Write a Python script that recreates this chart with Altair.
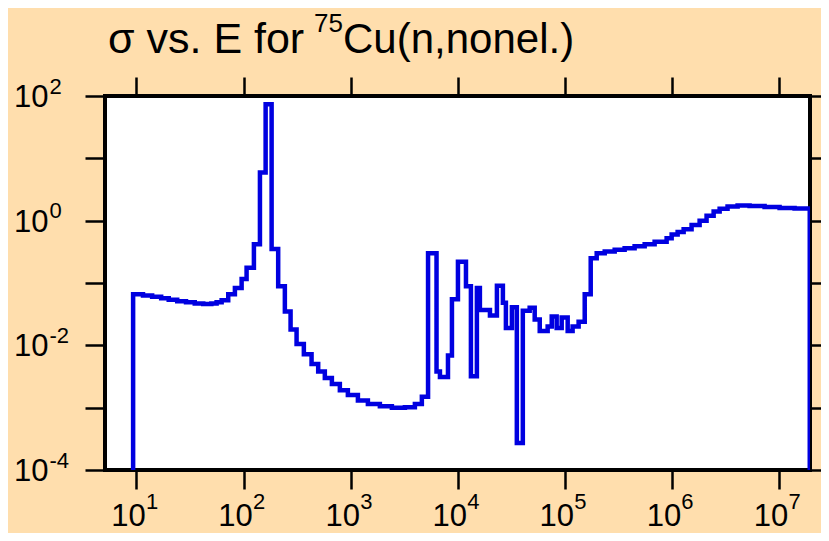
import altair as alt
import pandas as pd

# ---- data (step histogram, log-log) ----
ENERGY = [9.3, 9.3, 11.5, 14, 17, 20, 24, 29, 35, 42, 50, 56, 62.4, 71.9, 83, 95.9,
          106.7, 124.9, 142.2, 160.7, 182.8, 210.5, 243, 274.8, 312.6, 365.6, 431.5,
          497.7, 574, 668, 793, 942, 1169, 1449, 1875, 2427, 3212, 3981, 4624, 5284,
          6339, 6823, 8110, 8831, 10050, 11940, 13280, 15100, 16110, 20000, 23230,
          26420, 28180, 32060, 35650, 40550, 46990, 52360, 58340, 69180, 75510, 83950,
          93540, 106400, 118300, 134600, 153500, 174600, 198600, 236000, 292400,
          362200, 448700, 557200, 690200, 893300, 995400, 1132000, 1288000, 1528000,
          1816000, 2109000, 2455000, 2793000, 3311000, 4111000, 5321000, 7345000,
          10140000, 14000000, 19400000]
SIGMA = [1e-6, 0.066, 0.063, 0.06, 0.057, 0.054, 0.051, 0.049, 0.047, 0.046, 0.047,
         0.049, 0.053, 0.066, 0.083, 0.116, 0.175, 0.42, 5.9, 74, 0.35, 0.089, 0.035,
         0.018, 0.0105, 0.0072, 0.005, 0.0038, 0.003, 0.0024, 0.0019, 0.0016, 0.0013,
         0.00115, 0.00105, 0.001, 0.00102, 0.00115, 0.0015, 0.30, 0.0038, 0.0031,
         0.0069, 0.055, 0.22, 0.089, 0.0032, 0.083, 0.037, 0.03, 0.09, 0.048, 0.019,
         0.041, 0.00027, 0.036, 0.04, 0.026, 0.017, 0.02, 0.029, 0.019, 0.028, 0.017,
         0.02, 0.024, 0.066, 0.25, 0.3, 0.32, 0.34, 0.36, 0.39, 0.42, 0.46, 0.52, 0.6,
         0.66, 0.73, 0.85, 1.0, 1.2, 1.4, 1.55, 1.68, 1.75, 1.72, 1.65, 1.6, 1.57, 1e-6]

X_TICKS = [10, 100, 1e3, 1e4, 1e5, 1e6, 1e7]
Y_TICKS = [1e-4, 1e-3, 1e-2, 1e-1, 1, 10, 100]
X_DOMAIN = [5.08, 1.95e7]
Y_DOMAIN = [1e-4, 100]
TITLE_PARTS = ["σ vs. E for", "75", "Cu(n,nonel.)"]

FONT = "Liberation Sans"
BG = "#FFDEAD"
LINE_COLOR = "#0000E0"

df = pd.DataFrame({"E": ENERGY, "sigma": SIGMA})
xs = alt.Scale(type="log", domain=X_DOMAIN, nice=False)
ys = alt.Scale(type="log", domain=Y_DOMAIN, nice=False)

common = dict(title=None, grid=False, domain=False, labelOverlap=False,
              labelFlush=False, labelBound=False, labelFont=FONT, labelColor="black",
              tickColor="black", tickWidth=2.5)

base = alt.Chart(df)

EXP = "round(log(datum.value)/LN10)"

# main line with the big "10" labels (bottom & left)
line = base.mark_line(color=LINE_COLOR, strokeWidth=4.5, interpolate="step-after",
                      clip=True).encode(
    x=alt.X("E:Q", scale=xs, axis=alt.Axis(
        orient="bottom", values=X_TICKS, labelExpr="'10'", tickSize=19,
        labelFontSize=31, labelAlign="center", labelBaseline="middle",
        labelPadding=27, labelOffset=-8.5, **common)),
    y=alt.Y("sigma:Q", scale=ys, axis=alt.Axis(
        orient="left", values=Y_TICKS,
        labelExpr=f"({EXP} % 2 == 0) ? '10' : ''", tickSize=20,
        labelFontSize=31, labelAlign="right", labelBaseline="middle",
        labelPadding=37, labelOffset=1.5, **common)),
)

# invisible layer carrying the superscript exponents
exps = base.mark_line(strokeOpacity=0).encode(
    x=alt.X("E:Q", scale=xs, axis=alt.Axis(
        orient="bottom", values=X_TICKS, labelExpr=f"'' + {EXP}", ticks=False,
        tickSize=0, labelFontSize=22, labelAlign="left", labelBaseline="middle",
        labelPadding=31, labelOffset=9, **common)),
    y=alt.Y("sigma:Q", scale=ys, axis=alt.Axis(
        orient="left", values=Y_TICKS,
        labelExpr=f"({EXP} % 2 == 0) ? ('' + {EXP}) : ''", ticks=False, tickSize=0,
        labelFontSize=22, labelAlign="left", labelBaseline="middle",
        labelPadding=56, labelOffset=-10, **common)),
)

# invisible layer carrying the mirrored ticks (top & right)
mirror = base.mark_line(strokeOpacity=0).encode(
    x=alt.X("E:Q", scale=xs, axis=alt.Axis(
        orient="top", values=X_TICKS, labels=False, tickSize=19, **common)),
    y=alt.Y("sigma:Q", scale=ys, axis=alt.Axis(
        orient="right", values=Y_TICKS, labels=False, tickSize=20, **common)),
)

def title_piece(text, size, x, y):
    return alt.Chart(pd.DataFrame({"t": [text]})).mark_text(
        font=FONT, fontSize=size, align="left", baseline="alphabetic", color="black"
    ).encode(text="t:N", x=alt.value(x), y=alt.value(y))

t1 = title_piece(TITLE_PARTS[0], 43, 3, -43)
t2 = title_piece(TITLE_PARTS[1], 26, 209, -64)
t3 = title_piece(TITLE_PARTS[2], 42, 238, -43)

chart = alt.layer(line, exps, mirror, t1, t2, t3).resolve_scale(
    x="independent", y="independent"
).properties(
    width=705, height=374, background=BG,
    padding={"left": 97, "top": 88, "right": 11, "bottom": 63},
    autosize=alt.AutoSizeParams(type="none"),
).configure_view(stroke="black", strokeWidth=4, fill="white")

chart.save("out.html", embed_options={"renderer": "svg", "actions": False})
